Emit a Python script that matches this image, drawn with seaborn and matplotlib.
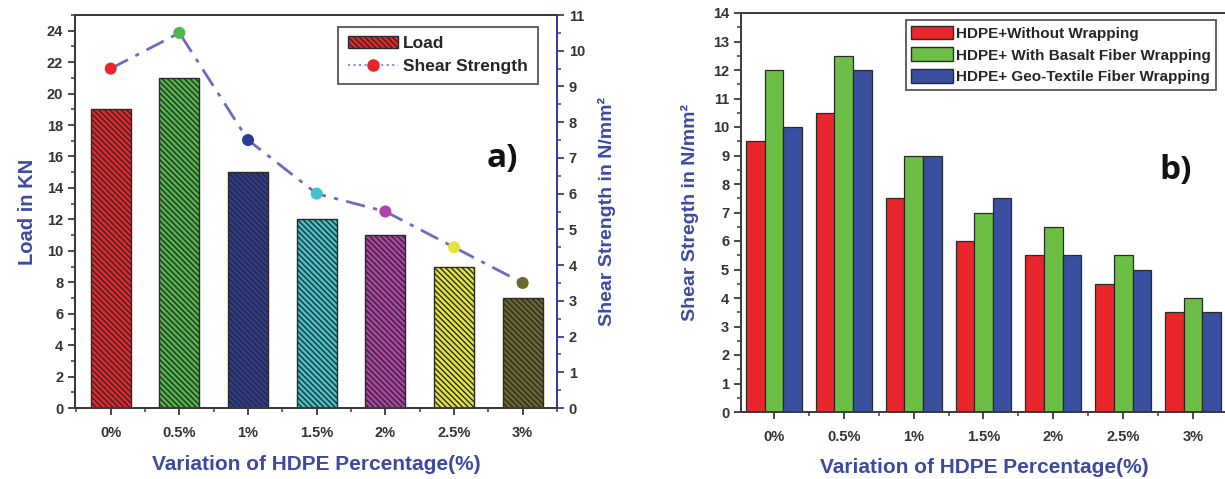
import numpy as np
import pandas as pd
import matplotlib
matplotlib.use('Agg')
import matplotlib.pyplot as plt
from matplotlib.ticker import MultipleLocator, FixedLocator
from matplotlib.patches import Patch
from matplotlib.lines import Line2D
import seaborn as sns

# data
pct_labels = ['0%', '0.5%', '1%', '1.5%', '2%', '2.5%', '3%']
load_kn = [19, 21, 15, 12, 11, 9, 7]
shear_a = [9.5, 10.5, 7.5, 6, 5.5, 4.5, 3.5]
series_names = ['HDPE+Without Wrapping', 'HDPE+ With Basalt Fiber Wrapping',
                'HDPE+ Geo-Textile Fiber Wrapping']
without_wrap = [9.5, 10.5, 7.5, 6, 5.5, 4.5, 3.5]
basalt_wrap = [12, 12.5, 9, 7, 6.5, 5.5, 4]
geotextile_wrap = [10, 12, 9, 7.5, 5.5, 5, 3.5]

bar_colors = ['#e8262b', '#4fb848', '#2c3b95', '#40c4c8', '#b142a9', '#e4e43a', '#6a6a2c']
series_colors = ['#e8262b', '#6cbe45', '#3a4fa0']
label_blue = '#3d4aa3'
tick_gray = '#333333'

sns.set_style('ticks')
plt.rcParams['font.family'] = ['Liberation Sans', 'DejaVu Sans']
plt.rcParams['hatch.linewidth'] = 1.0

fig = plt.figure(figsize=(12.25, 4.79), dpi=100)

# ---------- panel a) ----------
ax1 = fig.add_axes([75 / 1225, 71 / 479, 482 / 1225, 393 / 479])
sns.barplot(x=pct_labels, y=load_kn, hue=pct_labels, palette=bar_colors, width=0.58,
            saturation=1, edgecolor='#2a2a2a', linewidth=1.0, legend=False, ax=ax1)
for p in ax1.patches:
    p.set_hatch('\\\\\\\\\\\\')
ax1.set_xlim(-0.52, 6.5)
ax1.set_ylim(0, 25)
ax1.yaxis.set_major_locator(MultipleLocator(2))
ax1.yaxis.set_minor_locator(MultipleLocator(1))
ax1.xaxis.set_minor_locator(FixedLocator(np.arange(-0.5, 7, 1)))

ax2 = ax1.twinx()
xpos = np.arange(len(pct_labels))
ax2.plot(xpos, shear_a, color='#6b6bc6', lw=2, linestyle=(0, (7, 3, 1.5, 3)), zorder=2)
ax2.scatter(xpos, shear_a, c=bar_colors, s=75, zorder=3, edgecolors='none')
ax2.set_ylim(0, 11)
ax2.yaxis.set_major_locator(MultipleLocator(1))
ax2.yaxis.set_minor_locator(MultipleLocator(0.5))

ax1.set_xlabel('Variation of HDPE Percentage(%)', fontsize=15, fontweight='bold',
               color=label_blue, labelpad=11)
ax1.set_ylabel('Load in KN', fontsize=14.5, fontweight='bold', color=label_blue, labelpad=7)
ax2.set_ylabel('Shear Strength in N/mm²', fontsize=14, fontweight='bold',
               color=label_blue, rotation=90, labelpad=9)

for ax in (ax1, ax2):
    for s in ax.spines.values():
        s.set_linewidth(1.4)
        s.set_color('#3a3a3a')
    ax.tick_params(which='major', direction='out', length=5, width=1.3, colors='#3a3a3a',
                   labelcolor=tick_gray, labelsize=10.5)
    ax.tick_params(which='minor', direction='out', length=3, width=1.1, colors='#3a3a3a')
ax2.spines['right'].set_color('#3a3aa0')
ax2.tick_params(axis='y', which='both', colors='#3a3aa0', labelcolor=tick_gray)
ax1.tick_params(axis='x', pad=8)
for lab in ax1.get_xticklabels() + ax1.get_yticklabels() + ax2.get_yticklabels():
    lab.set_fontweight('bold')

leg_a = [Patch(facecolor=bar_colors[0], edgecolor='#2a2a2a', hatch='\\\\\\\\\\\\', label='Load'),
         Line2D([0], [0], color='#8a8ad8', lw=1.5, linestyle=':', marker='o',
                markerfacecolor=bar_colors[0], markeredgecolor=bar_colors[0], markersize=8,
                label='Shear Strength')]
lg = ax2.legend(handles=leg_a, loc='upper right', bbox_to_anchor=(0.96, 0.97),
                borderaxespad=0, frameon=True, fancybox=False, edgecolor='#555555',
                framealpha=1, prop={'weight': 'bold', 'size': 12.5}, handlelength=2.9,
                borderpad=0.55, labelspacing=0.45, handletextpad=0.3)
lg.get_frame().set_linewidth(1.3)
ax1.text(0.886, 0.636, 'a)', transform=ax1.transAxes, fontsize=24, fontweight='bold',
         family=['Open Sans', 'DejaVu Sans'], ha='center', va='center', color='#111111')

# ---------- panel b) ----------
ax3 = fig.add_axes([741 / 1225, 67 / 479, 487 / 1225, 399 / 479])
df = pd.DataFrame({
    'pct': pct_labels * 3,
    'value': without_wrap + basalt_wrap + geotextile_wrap,
    'series': [series_names[0]] * 7 + [series_names[1]] * 7 + [series_names[2]] * 7,
})
sns.barplot(data=df, x='pct', y='value', hue='series', palette=series_colors, width=0.8,
            saturation=1, edgecolor='#2a2a2a', linewidth=0.9, ax=ax3)
ax3.set_xlim(-0.47, 6.5)
ax3.set_ylim(0, 14)
ax3.yaxis.set_major_locator(MultipleLocator(1))
ax3.yaxis.set_minor_locator(MultipleLocator(0.5))
ax3.xaxis.set_minor_locator(FixedLocator(np.arange(-0.5, 7, 1)))
ax3.set_xlabel('Variation of HDPE Percentage(%)', fontsize=15, fontweight='bold',
               color=label_blue, labelpad=10)
ax3.set_ylabel('Shear Stregth in N/mm²', fontsize=14, fontweight='bold',
               color=label_blue, labelpad=10)
for s in ax3.spines.values():
    s.set_linewidth(1.4)
    s.set_color('#3a3a3a')
ax3.tick_params(which='major', direction='out', length=5, width=1.3, colors='#3a3a3a',
                labelcolor=tick_gray, labelsize=10.5)
ax3.tick_params(which='minor', direction='out', length=3, width=1.1, colors='#3a3a3a')
ax3.tick_params(axis='x', pad=8)
for lab in ax3.get_xticklabels() + ax3.get_yticklabels():
    lab.set_fontweight('bold')

leg_b = [Patch(facecolor=c, edgecolor='#2a2a2a', label=n) for c, n in zip(series_colors, series_names)]
lg3 = ax3.legend(handles=leg_b, loc='upper right', bbox_to_anchor=(0.975, 0.982),
                 borderaxespad=0, frameon=True, fancybox=False, edgecolor='#555555',
                 framealpha=1, prop={'weight': 'bold', 'size': 11}, handlelength=2.7,
                 handleheight=1.0, borderpad=0.35, labelspacing=0.45, handletextpad=0.2)
lg3.get_frame().set_linewidth(1.3)
ax3.text(0.893, 0.606, 'b)', transform=ax3.transAxes, fontsize=24, fontweight='bold',
         family=['Open Sans', 'DejaVu Sans'], ha='center', va='center', color='#111111')

fig.savefig('out.png', dpi=100)
